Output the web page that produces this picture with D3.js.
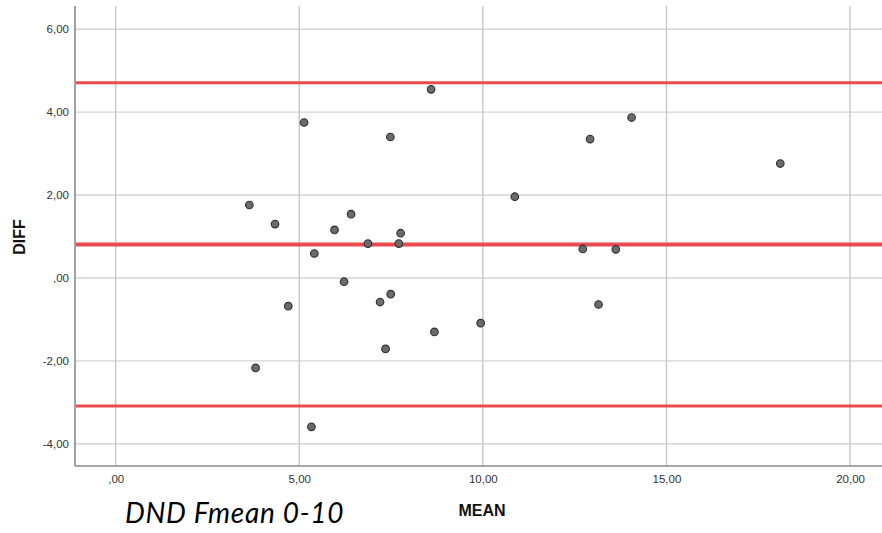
<!DOCTYPE html>
<html>
<head>
<meta charset="utf-8">
<script src="https://cdn.jsdelivr.net/npm/d3@7"></script>
<style>
  html, body { margin: 0; padding: 0; background: #fff; }
  svg { display: block; }
</style>
</head>
<body>
<svg id="chart" width="882" height="533"></svg>
<script>
// Bland-Altman plot: mean of two measurements vs. their difference
const meanValues = [8.59, 5.13, 7.48, 3.64, 4.34, 6.41, 5.96, 7.76, 6.87, 7.71, 5.41,
                    6.22, 7.49, 7.20, 4.70, 8.68, 7.35, 3.81, 5.33,
                    14.05, 12.92, 10.87, 12.72, 13.62, 13.15, 9.94, 18.10];
const diffValues = [4.55, 3.75, 3.40, 1.76, 1.30, 1.54, 1.16, 1.08, 0.83, 0.83, 0.59,
                    -0.09, -0.39, -0.58, -0.68, -1.30, -1.71, -2.17, -3.59,
                    3.87, 3.35, 1.96, 0.70, 0.69, -0.64, -1.09, 2.76];

// Bias and limits of agreement
const meanDiff = 0.81;
const upperLimit = 4.71;
const lowerLimit = -3.09;

const xTicks = [0, 5, 10, 15, 20];
const yTicks = [-4, -2, 0, 2, 4, 6];

const fmt = v => {
  const s = Math.abs(v).toFixed(2).replace(".", ",").replace(/^0,/, ",");
  return (v < 0 ? "-" : "") + s;
};

const svg = d3.select("#chart");
const plot = { left: 75, right: 882, top: 6, bottom: 466 };

const x = d3.scaleLinear().domain([-1.108, 20.87]).range([plot.left, plot.right]);
const y = d3.scaleLinear().domain([-4.535, 6.56]).range([plot.bottom, plot.top]);

// Gridlines
svg.append("g").selectAll("line").data(yTicks).join("line")
  .attr("x1", plot.left).attr("x2", plot.right)
  .attr("y1", d => y(d)).attr("y2", d => y(d))
  .attr("stroke", "#d4d4d4").attr("stroke-width", 1.4);

svg.append("g").selectAll("line").data(xTicks).join("line")
  .attr("x1", d => x(d)).attr("x2", d => x(d))
  .attr("y1", plot.top).attr("y2", plot.bottom)
  .attr("stroke", "#c8c8c8").attr("stroke-width", 1.4);

// Axes
const yAxis = svg.append("g").attr("transform", `translate(${plot.left},0)`)
  .call(d3.axisLeft(y).tickValues(yTicks).tickFormat(fmt).tickSize(0).tickPadding(6));
const xAxis = svg.append("g").attr("transform", `translate(0,${plot.bottom})`)
  .call(d3.axisBottom(x).tickValues(xTicks).tickFormat(fmt).tickSize(0).tickPadding(9));

[yAxis, xAxis].forEach(g => {
  g.select(".domain").attr("stroke", "#8a8a8a").attr("stroke-width", 1.6);
  g.selectAll("text")
    .attr("font-family", "'Liberation Sans', Arial, sans-serif")
    .attr("font-size", 11.5).attr("fill", "#333");
});
yAxis.select(".domain").attr("d", `M0,${plot.top}V${plot.bottom}`);
xAxis.select(".domain").attr("d", `M${plot.left},0H${plot.right}`);

// Reference lines
const refLines = [
  { v: upperLimit, w: 3 },
  { v: meanDiff, w: 4 },
  { v: lowerLimit, w: 3 }
];
svg.append("g").selectAll("line").data(refLines).join("line")
  .attr("x1", plot.left + 1).attr("x2", plot.right)
  .attr("y1", d => y(d.v)).attr("y2", d => y(d.v))
  .attr("stroke", "#ea4b4f").attr("stroke-width", d => d.w);

// Points
svg.append("g").selectAll("circle").data(meanValues.map((m, i) => [m, diffValues[i]]))
  .join("circle")
  .attr("cx", d => x(d[0])).attr("cy", d => y(d[1]))
  .attr("r", 3.8)
  .attr("fill", "#6b6b6b").attr("stroke", "#2e2e2e").attr("stroke-width", 1.1);

// Axis titles
svg.append("text")
  .attr("x", 482).attr("y", 516)
  .attr("text-anchor", "middle")
  .attr("font-family", "'Liberation Sans', Arial, sans-serif")
  .attr("font-weight", "bold").attr("font-size", 16).attr("fill", "#111")
  .text("MEAN");

svg.append("text")
  .attr("transform", "translate(25,237) rotate(-90)")
  .attr("text-anchor", "middle")
  .attr("font-family", "'Liberation Sans', Arial, sans-serif")
  .attr("font-weight", "bold").attr("font-size", 16).attr("fill", "#111")
  .text("DIFF");

// Caption
svg.append("text")
  .attr("x", 125).attr("y", 523)
  .attr("font-family", "Lato, 'Open Sans', sans-serif")
  .attr("font-style", "italic").attr("font-size", 28)
  .attr("letter-spacing", 0.7).attr("fill", "#000")
  .text("DND Fmean 0-10");
</script>
</body>
</html>
